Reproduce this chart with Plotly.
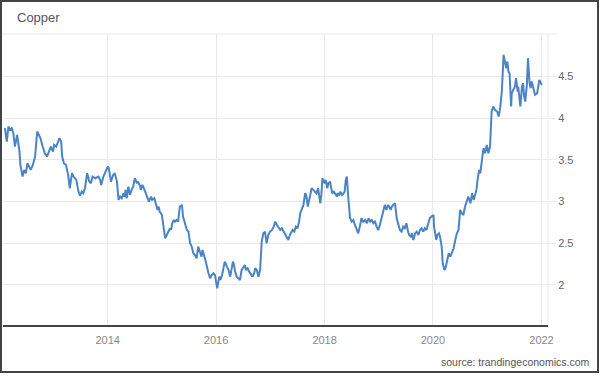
import datetime as dt
import plotly.graph_objects as go

# Copper price (USD/lb), decimal-year time stamps
years = [
    2012.105, 2012.14, 2012.17, 2012.20, 2012.23, 2012.26, 2012.29, 2012.31, 2012.33, 2012.37,
    2012.39, 2012.43, 2012.46, 2012.49, 2012.52, 2012.55, 2012.58, 2012.62, 2012.66, 2012.70,
    2012.74, 2012.76, 2012.80, 2012.84, 2012.88, 2012.92, 2012.95, 2012.99, 2013.01, 2013.05,
    2013.07, 2013.11, 2013.14, 2013.16, 2013.19, 2013.23, 2013.27, 2013.30, 2013.34, 2013.37,
    2013.42, 2013.46, 2013.49, 2013.52, 2013.55, 2013.58, 2013.62, 2013.66, 2013.69, 2013.72,
    2013.77, 2013.83, 2013.86, 2013.88, 2013.92, 2013.95, 2014.00, 2014.02, 2014.06, 2014.10,
    2014.13, 2014.17, 2014.20, 2014.23, 2014.26, 2014.29, 2014.31, 2014.33, 2014.35, 2014.38,
    2014.41, 2014.44, 2014.47, 2014.50, 2014.54, 2014.56, 2014.60, 2014.61, 2014.64, 2014.68,
    2014.70, 2014.74, 2014.76, 2014.80, 2014.82, 2014.86, 2014.89, 2014.92, 2014.94, 2014.96,
    2015.00, 2015.03, 2015.06, 2015.09, 2015.12, 2015.15, 2015.17, 2015.19, 2015.22, 2015.24,
    2015.27, 2015.30, 2015.33, 2015.37, 2015.39, 2015.43, 2015.46, 2015.49, 2015.52, 2015.55,
    2015.58, 2015.61, 2015.64, 2015.67, 2015.70, 2015.73, 2015.75, 2015.78, 2015.81, 2015.86,
    2015.89, 2015.92, 2015.95, 2015.98, 2016.01, 2016.02, 2016.06, 2016.08, 2016.11, 2016.13,
    2016.16, 2016.20, 2016.23, 2016.26, 2016.29, 2016.31, 2016.33, 2016.35, 2016.38, 2016.41,
    2016.44, 2016.47, 2016.50, 2016.53, 2016.55, 2016.58, 2016.61, 2016.64, 2016.67, 2016.70,
    2016.72, 2016.75, 2016.78, 2016.81, 2016.84, 2016.87, 2016.90, 2016.93, 2016.96, 2016.99,
    2017.03, 2017.06, 2017.09, 2017.12, 2017.15, 2017.18, 2017.21, 2017.24, 2017.27, 2017.30,
    2017.33, 2017.36, 2017.41, 2017.44, 2017.47, 2017.50, 2017.53, 2017.55, 2017.58, 2017.61,
    2017.64, 2017.66, 2017.69, 2017.71, 2017.73, 2017.76, 2017.79, 2017.82, 2017.85, 2017.88,
    2017.92, 2017.94, 2017.96, 2018.00, 2018.02, 2018.05, 2018.07, 2018.10, 2018.12, 2018.14,
    2018.17, 2018.19, 2018.23, 2018.24, 2018.27, 2018.29, 2018.32, 2018.35, 2018.37, 2018.39,
    2018.41, 2018.44, 2018.47, 2018.50, 2018.53, 2018.56, 2018.59, 2018.62, 2018.65, 2018.68,
    2018.71, 2018.75, 2018.78, 2018.81, 2018.84, 2018.87, 2018.90, 2018.93, 2018.96, 2018.99,
    2019.02, 2019.05, 2019.08, 2019.11, 2019.14, 2019.17, 2019.19, 2019.22, 2019.24, 2019.27,
    2019.30, 2019.33, 2019.36, 2019.39, 2019.42, 2019.45, 2019.48, 2019.51, 2019.54, 2019.56,
    2019.59, 2019.61, 2019.64, 2019.67, 2019.70, 2019.73, 2019.76, 2019.79, 2019.82, 2019.85,
    2019.88, 2019.91, 2019.94, 2019.97, 2020.01, 2020.02, 2020.06, 2020.08, 2020.11, 2020.13,
    2020.16, 2020.18, 2020.21, 2020.23, 2020.26, 2020.29, 2020.32, 2020.35, 2020.38, 2020.41,
    2020.44, 2020.47, 2020.50, 2020.53, 2020.56, 2020.59, 2020.62, 2020.65, 2020.69, 2020.72,
    2020.75, 2020.78, 2020.80, 2020.82, 2020.85, 2020.87, 2020.90, 2020.93, 2020.96, 2020.99,
    2021.02, 2021.05, 2021.08, 2021.11, 2021.14, 2021.18, 2021.21, 2021.24, 2021.27, 2021.30,
    2021.33, 2021.35, 2021.37, 2021.39, 2021.41, 2021.44, 2021.45, 2021.48, 2021.51, 2021.53,
    2021.56, 2021.57, 2021.61, 2021.64, 2021.66, 2021.68, 2021.70, 2021.73, 2021.75, 2021.78,
    2021.80, 2021.82, 2021.85, 2021.88, 2021.92, 2021.94, 2021.96, 2021.99, 2022.01,
]
prices = [
    3.88, 3.72, 3.90, 3.86, 3.88, 3.82, 3.66, 3.74, 3.80, 3.62,
    3.44, 3.30, 3.38, 3.34, 3.46, 3.42, 3.38, 3.44, 3.54, 3.84,
    3.78, 3.76, 3.66, 3.58, 3.54, 3.62, 3.66, 3.60, 3.68, 3.66,
    3.70, 3.76, 3.72, 3.54, 3.46, 3.44, 3.32, 3.16, 3.34, 3.30,
    3.26, 3.12, 3.07, 3.12, 3.10, 3.16, 3.34, 3.24, 3.22, 3.30,
    3.28, 3.30, 3.26, 3.20, 3.30, 3.34, 3.42, 3.40, 3.24, 3.32,
    3.34, 3.24, 3.02, 3.06, 3.04, 3.10, 3.06, 3.14, 3.04, 3.18,
    3.08, 3.14, 3.18, 3.28, 3.22, 3.24, 3.18, 3.14, 3.20, 3.14,
    3.10, 3.02, 3.00, 3.06, 3.02, 3.04, 2.96, 2.90, 2.94, 2.88,
    2.84, 2.70, 2.56, 2.60, 2.64, 2.68, 2.66, 2.74, 2.78, 2.76,
    2.78, 2.76, 2.94, 2.96, 2.82, 2.74, 2.66, 2.64, 2.50, 2.46,
    2.38, 2.36, 2.32, 2.46, 2.40, 2.34, 2.42, 2.36, 2.28, 2.14,
    2.08, 2.12, 2.14, 2.12, 2.00, 1.96, 2.10, 2.06, 2.12, 2.18,
    2.28, 2.22, 2.18, 2.10, 2.22, 2.28, 2.24, 2.16, 2.10, 2.08,
    2.06, 2.18, 2.22, 2.24, 2.18, 2.20, 2.16, 2.12, 2.10, 2.14,
    2.20, 2.18, 2.10, 2.18, 2.52, 2.62, 2.64, 2.50, 2.60, 2.64,
    2.66, 2.70, 2.76, 2.72, 2.68, 2.66, 2.68, 2.64, 2.60, 2.58,
    2.54, 2.60, 2.66, 2.64, 2.70, 2.68, 2.76, 2.86, 2.92, 2.96,
    3.10, 3.08, 2.94, 3.00, 3.06, 3.16, 3.14, 3.12, 3.10, 3.16,
    2.98, 3.08, 3.28, 3.22, 3.26, 3.16, 3.22, 3.24, 3.18, 3.10,
    3.12, 3.10, 3.06, 3.10, 3.08, 3.12, 3.08, 3.10, 3.12, 3.26,
    3.30, 3.02, 2.80, 2.76, 2.78, 2.72, 2.66, 2.62, 2.70, 2.80,
    2.76, 2.78, 2.74, 2.80, 2.76, 2.78, 2.74, 2.76, 2.70, 2.66,
    2.72, 2.80, 2.88, 2.96, 2.90, 2.96, 2.94, 2.90, 2.94, 2.96,
    2.98, 2.80, 2.72, 2.66, 2.64, 2.70, 2.68, 2.74, 2.64, 2.60,
    2.58, 2.62, 2.54, 2.62, 2.64, 2.60, 2.66, 2.68, 2.64, 2.68,
    2.66, 2.74, 2.80, 2.82, 2.84, 2.70, 2.54, 2.60, 2.62, 2.58,
    2.46, 2.26, 2.18, 2.20, 2.30, 2.38, 2.34, 2.40, 2.44, 2.54,
    2.62, 2.66, 2.90, 2.86, 2.84, 2.94, 3.00, 3.06, 2.98, 3.10,
    3.02, 3.10, 3.14, 3.26, 3.38, 3.34, 3.50, 3.64, 3.58, 3.68,
    3.58, 3.66, 4.08, 4.14, 4.10, 4.08, 4.02, 4.14, 4.34, 4.76,
    4.66, 4.60, 4.68, 4.56, 4.54, 4.14, 4.30, 4.34, 4.38, 4.48,
    4.32, 4.38, 4.14, 4.38, 4.42, 4.26, 4.20, 4.40, 4.72, 4.42,
    4.36, 4.44, 4.34, 4.28, 4.30, 4.40, 4.46, 4.42, 4.40,
]
x_ticks = [2014, 2016, 2018, 2020, 2022]
y_ticks = [2, 2.5, 3, 3.5, 4, 4.5]
y_labels = ["2", "2.5", "3", "3.5", "4", "4.5"]
title_text = "Copper"
source_text = "source: trandingeconomics.com"


def to_date(y):
    yr = int(y)
    frac = y - yr
    start = dt.datetime(yr, 1, 1)
    days = (dt.datetime(yr + 1, 1, 1) - start).days
    return start + dt.timedelta(days=frac * days)


dates = [to_date(y) for y in years]

FONT = "Liberation Sans, Arial, sans-serif"
GRID = "#e9e9e9"

fig = go.Figure()
fig.add_trace(go.Scatter(
    x=dates, y=prices, mode="lines",
    line=dict(color="#4a84c6", width=2),
    hoverinfo="skip", showlegend=False,
))

fig.update_layout(
    width=600, height=377,
    margin=dict(l=3, r=52, t=34, b=52),
    paper_bgcolor="white", plot_bgcolor="white",
    font=dict(family=FONT, color="#777", size=11),
    showlegend=False,
    xaxis=dict(
        type="date",
        range=[to_date(2012.07), to_date(2022.12)],
        tickvals=[dt.datetime(y, 1, 1) for y in x_ticks],
        ticktext=[str(y) for y in x_ticks],
        showgrid=True, gridcolor=GRID, gridwidth=1,
        showline=True, linecolor="#444", linewidth=1.5,
        ticks="outside", ticklen=4, tickcolor="rgba(0,0,0,0)",
        tickfont=dict(family=FONT, color="#888", size=11),
        zeroline=False, fixedrange=True,
    ),
    yaxis=dict(
        side="right",
        range=[1.52, 5.01],
        tickvals=y_ticks, ticktext=y_labels,
        showgrid=True, gridcolor=GRID, gridwidth=1,
        showline=False,
        ticks="outside", ticklen=7, tickcolor=GRID,
        tickfont=dict(family=FONT, color="#666", size=11),
        zeroline=False, fixedrange=True,
    ),
    shapes=[
        # line under the title / top edge of the plot
        dict(type="line", xref="paper", yref="paper", x0=-0.01, x1=1.017, y0=1, y1=1,
             line=dict(color=GRID, width=1)),
        # right edge of plot
        dict(type="line", xref="paper", yref="paper", x0=1, x1=1, y0=0, y1=1,
             line=dict(color=GRID, width=1)),
        # outer frame
        dict(type="rect", xref="paper", yref="paper",
             x0=-2 / 545, x1=(598 - 3) / 545, y0=-(372 - 325) / 291, y1=(325 - 1) / 291,
             line=dict(color="#444", width=2)),
    ],
    annotations=[
        dict(text=title_text, xref="paper", yref="paper",
             x=(15 - 3) / 545, y=(325 - 18) / 291, xanchor="left", yanchor="middle",
             showarrow=False, font=dict(family=FONT, size=13, color="#555")),
        dict(text=source_text, xref="paper", yref="paper",
             x=(591 - 3) / 545, y=-(362 - 325) / 291, xanchor="right", yanchor="middle",
             showarrow=False, font=dict(family=FONT, size=10.5, color="#555")),
    ],
)

fig.write_html(
    "out.html",
    config={"displayModeBar": False},
    post_script="document.body.style.margin='0';document.body.style.overflow='hidden';",
)
